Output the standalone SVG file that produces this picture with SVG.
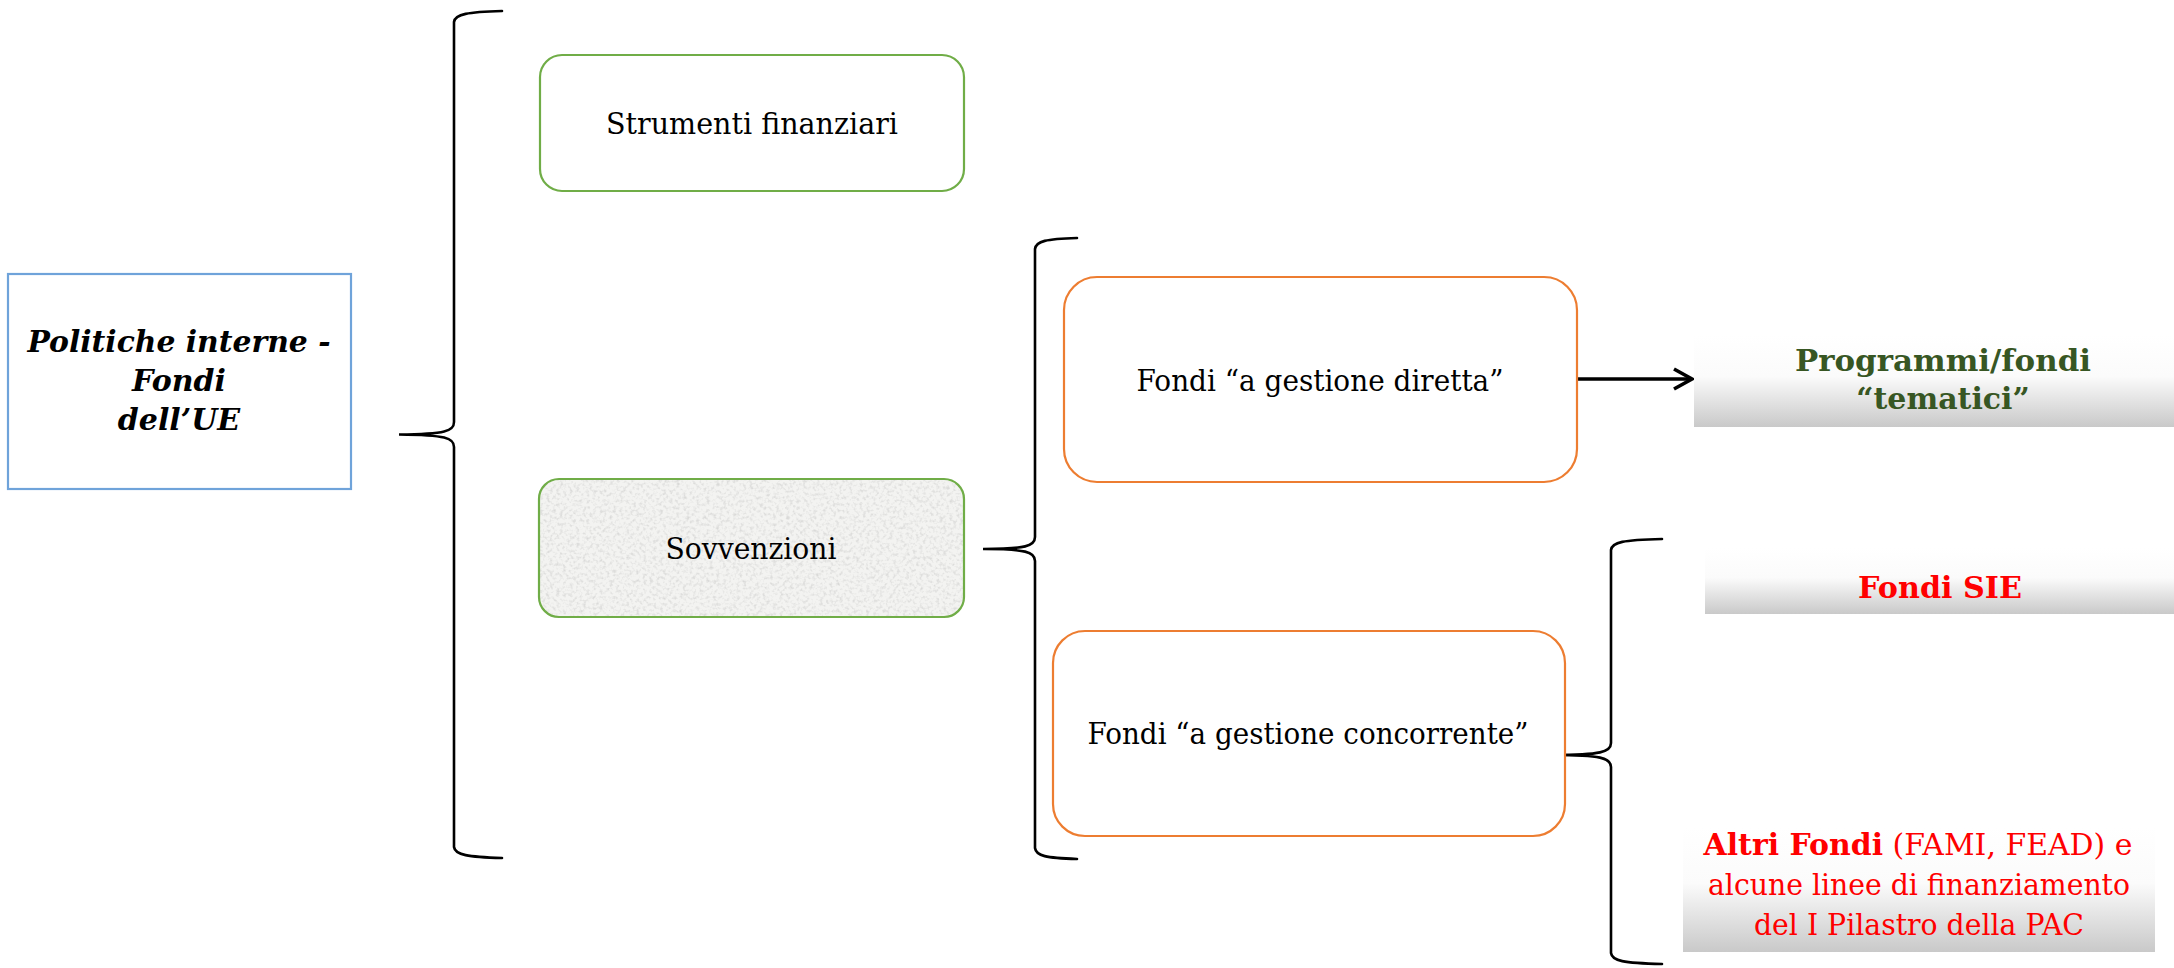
<svg xmlns="http://www.w3.org/2000/svg" width="2174" height="968" viewBox="0 0 2174 968">
  <style>
    .t { font-family: "DejaVu Serif", "Liberation Serif", serif; font-size: 29px; fill: #000; text-anchor: middle; }
    .b { font-weight: bold; font-size: 30px; }
    .bi { font-weight: bold; font-style: italic; font-size: 30px; }
    .green { fill: #375623; }
    .red { fill: #FF0000; }
    .brace { fill: none; stroke: #000; stroke-width: 2.6; stroke-linecap: round; }
    .gbox { fill: #fff; stroke: #70AD47; stroke-width: 2.2; }
    .obox { fill: #fff; stroke: #ED7D31; stroke-width: 2.2; }
  </style>
  <defs>
    <linearGradient id="grad" x1="0" y1="0" x2="0" y2="1">
      <stop offset="0" stop-color="#ffffff"/>
      <stop offset="0.45" stop-color="#fbfbfb"/>
      <stop offset="1" stop-color="#c9c9c9"/>
    </linearGradient>
    <filter id="tex" x="0" y="0" width="100%" height="100%">
      <feTurbulence type="fractalNoise" baseFrequency="0.3" numOctaves="2" seed="7" result="n"/>
      <feColorMatrix in="n" type="matrix" values="0 0 0 0 0.7  0 0 0 0 0.7  0 0 0 0 0.69  2.6 0 0 0 -1.2" result="s"/>
      <feComposite in="s" in2="SourceGraphic" operator="in"/>
    </filter>
    <marker id="arr" markerUnits="userSpaceOnUse" markerWidth="30" markerHeight="30" refX="20" refY="12" orient="auto">
      <polyline points="2,2 20,12 2,22" fill="none" stroke="#000" stroke-width="3.6" stroke-linejoin="miter"/>
    </marker>
  </defs>

  <g id="connectors">
    <path class="brace" d="M502,11 C468,12 455,14 454,22 L454,422 C454,431 446,434 399,434.5 C446,435 454,438 454,447 L454,847 C455,855 468,857 502,858"/>
    <path class="brace" d="M1077,238 C1046,239 1036,241 1035,249 L1035,537 C1035,546 1026,549 983,549 C1026,549 1035,552 1035,561 L1035,848 C1036,856 1046,858 1077,859"/>
    <path class="brace" d="M1662,539 C1623,540 1612,542 1611,550 L1611,743 C1611,752 1601,755 1553,755 C1601,755 1611,758 1611,767 L1611,953 C1612,961 1623,963 1662,964"/>
    <line x1="1578" y1="379" x2="1692" y2="379" stroke="#000" stroke-width="3.6" marker-end="url(#arr)"/>
  </g>

  <g id="node-politiche">
    <rect x="8" y="274" width="343" height="215" fill="#fff" stroke="#6FA3DA" stroke-width="2.2"/>
    <text class="t bi" x="179" y="352" textLength="303" lengthAdjust="spacingAndGlyphs">Politiche interne -</text>
    <text class="t bi" x="179" y="391">Fondi</text>
    <text class="t bi" x="179" y="430">dell’UE</text>
  </g>

  <g id="node-strumenti">
    <rect class="gbox" x="540" y="55" width="424" height="136" rx="22"/>
    <text class="t" x="752" y="134" textLength="292" lengthAdjust="spacingAndGlyphs">Strumenti finanziari</text>
  </g>

  <g id="node-sovvenzioni">
    <rect x="539" y="479" width="425" height="138" rx="20" fill="#f3f3f1"/>
    <rect x="539" y="479" width="425" height="138" rx="20" fill="#000" filter="url(#tex)"/>
    <rect x="539" y="479" width="425" height="138" rx="20" fill="none" stroke="#70AD47" stroke-width="2.2"/>
    <text class="t" x="751" y="559" textLength="171" lengthAdjust="spacingAndGlyphs">Sovvenzioni</text>
  </g>

  <g id="node-diretta">
    <rect class="obox" x="1064" y="277" width="513" height="205" rx="33"/>
    <text class="t" x="1320" y="391" textLength="367" lengthAdjust="spacingAndGlyphs">Fondi “a gestione diretta”</text>
  </g>

  <g id="node-concorrente">
    <rect class="obox" x="1053" y="631" width="512" height="205" rx="32"/>
    <text class="t" x="1308" y="744" textLength="441" lengthAdjust="spacingAndGlyphs">Fondi “a gestione concorrente”</text>
  </g>

  <g id="node-programmi">
    <rect x="1694" y="335" width="480" height="92" fill="url(#grad)"/>
    <text class="t b green" x="1943" y="371" textLength="296" lengthAdjust="spacingAndGlyphs">Programmi/fondi</text>
    <text class="t b green" x="1943" y="409">“tematici”</text>
  </g>

  <g id="node-sie">
    <rect x="1705" y="548" width="469" height="66" fill="url(#grad)"/>
    <text class="t b red" x="1940" y="598" textLength="164" lengthAdjust="spacingAndGlyphs">Fondi SIE</text>
  </g>

  <g id="node-altri">
    <rect x="1683" y="827" width="472" height="125" fill="url(#grad)"/>
    <text class="t red" x="1918" y="855" textLength="429" lengthAdjust="spacingAndGlyphs"><tspan font-weight="bold">Altri Fondi</tspan> (FAMI, FEAD) e</text>
    <text class="t red" x="1919" y="895" textLength="422" lengthAdjust="spacingAndGlyphs">alcune linee di finanziamento</text>
    <text class="t red" x="1919" y="935" textLength="330" lengthAdjust="spacingAndGlyphs">del I Pilastro della PAC</text>
  </g>
</svg>
